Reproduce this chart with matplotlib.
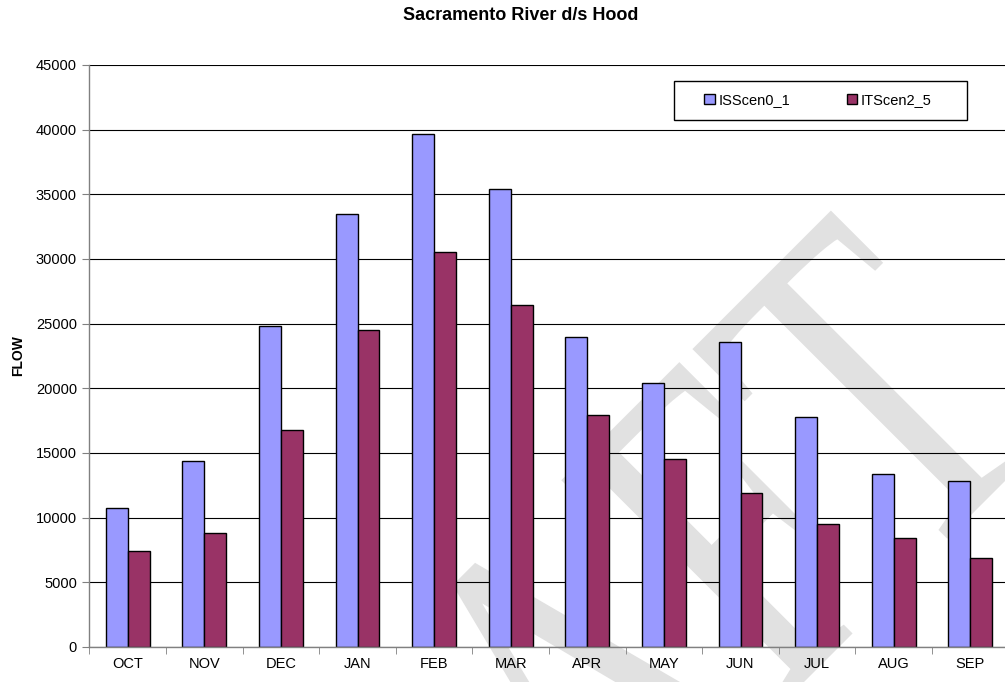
import numpy as np
import matplotlib.pyplot as plt
from matplotlib.textpath import TextPath
from matplotlib.font_manager import FontProperties
from matplotlib.patches import PathPatch, Rectangle
from matplotlib.transforms import Affine2D, IdentityTransform

months = ['OCT', 'NOV', 'DEC', 'JAN', 'FEB', 'MAR', 'APR', 'MAY', 'JUN', 'JUL', 'AUG', 'SEP']
isscen = [10750, 14400, 24800, 33500, 39700, 35400, 24000, 20450, 23600, 17800, 13400, 12800]
itscen = [7450, 8850, 16800, 24500, 30550, 26450, 17950, 14550, 11900, 9500, 8400, 6900]
series_names = ['ISScen0_1', 'ITScen2_5']

plt.rcParams['font.family'] = 'Liberation Sans'

fig = plt.figure(figsize=(10.05, 6.82), dpi=100)
ax = fig.add_axes([89.4/1005, 35/682, 919.2/1005, 582/682])
ax.patch.set_visible(False)

# light grey "DRAFT" watermark behind the chart
fp = FontProperties(family='Liberation Serif')
tp = TextPath((0, 0), 'DRAFT', size=1, prop=fp)
tr = Affine2D().scale(340, 480).rotate_deg(45).translate(269, -535)
wm = PathPatch(tr.transform_path(tp), facecolor='#e1e1e1', edgecolor='none',
               transform=IdentityTransform(), zorder=-1)
fig.add_artist(wm)

x = np.arange(len(months))
w = 0.2857
b1 = ax.bar(x - w/2, isscen, w, color='#9999ff', edgecolor='black', linewidth=1, label=series_names[0], zorder=2)
b2 = ax.bar(x + w/2, itscen, w, color='#993366', edgecolor='black', linewidth=1, label=series_names[1], zorder=2)

ax.set_xlim(-0.5, 11.5)
ax.set_ylim(0, 45000)
ax.set_yticks(np.arange(0, 45001, 5000))
ax.yaxis.grid(True, color='black', linewidth=0.8)
ax.set_axisbelow(True)

ax.set_xticks(x)
ax.set_xticklabels(months)
ax.set_xticks(np.arange(-0.5, 12, 1), minor=True)
ax.tick_params(axis='x', which='major', length=0, pad=7, labelsize=10.5)
ax.tick_params(axis='x', which='minor', length=5, color='#808080')
ax.tick_params(axis='y', length=5, color='#808080', labelsize=10.5, pad=4)

for s in ['top', 'right']:
    ax.spines[s].set_visible(False)
for s in ['left', 'bottom']:
    ax.spines[s].set_color('#808080')
    ax.spines[s].set_linewidth(1)

fig.text(0.518, 1 - 16/682, 'Sacramento River d/s Hood', ha='center', va='center',
         fontsize=13, fontweight='bold')
fig.text(18/1005, 1 - 356/682, 'FLOW', ha='center', va='center', rotation=90,
         fontsize=10, fontweight='bold')

# legend with a plain rectangular frame
fig.add_artist(Rectangle((674/1005, 1 - 120/682), 293/1005, 39/682, transform=fig.transFigure,
                         facecolor='white', edgecolor='black', linewidth=1, zorder=3))
leg = fig.legend(handles=[b1, b2], labels=series_names, loc='center left',
                 bbox_to_anchor=(704/1005, 1 - 100/682), bbox_transform=fig.transFigure,
                 ncol=2, frameon=False, fontsize=10.5, borderpad=0, borderaxespad=0,
                 handlelength=0.72, handleheight=0.72, handletextpad=0.25, columnspacing=3.9)
leg.set_zorder(4)

fig.savefig('out.png', dpi=100)
